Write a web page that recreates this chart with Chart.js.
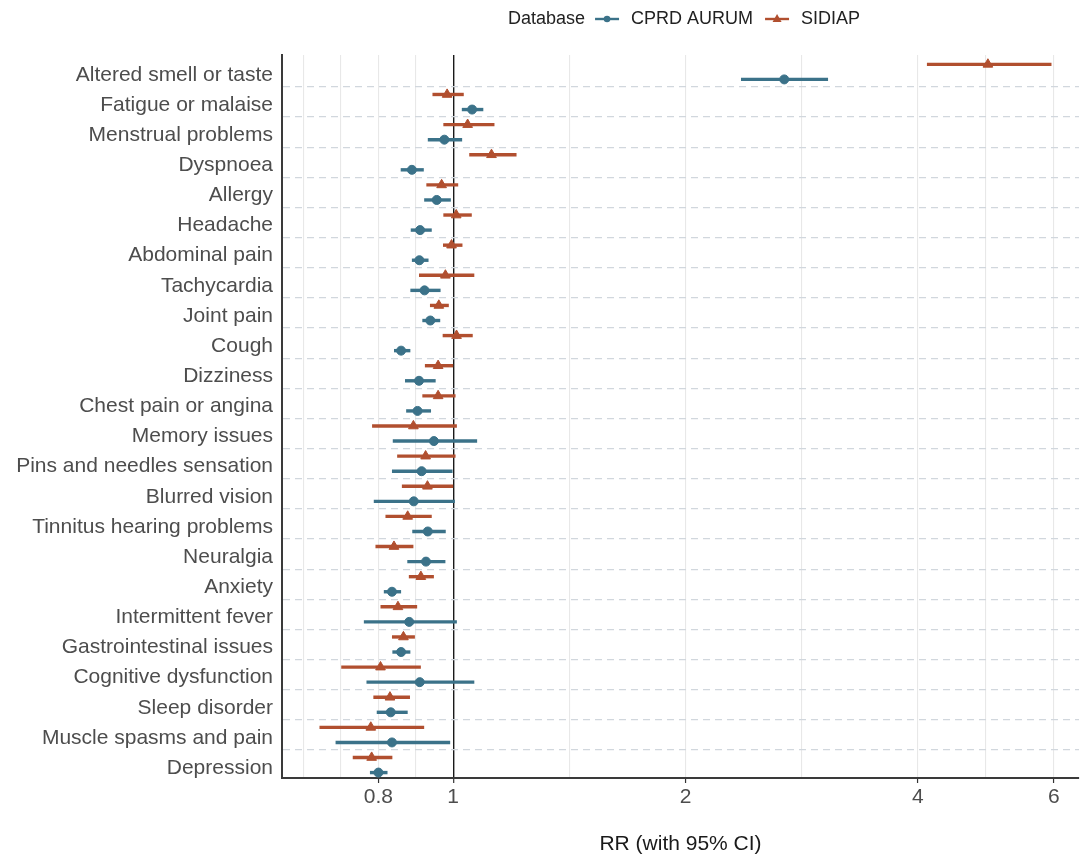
<!DOCTYPE html>
<html>
<head>
<meta charset="utf-8">
<title>RR by symptom</title>
<script src="https://cdn.jsdelivr.net/npm/chart.js@4.4.1/dist/chart.umd.min.js"></script>
<style>
  html, body { margin: 0; padding: 0; background: #fff; }
  #wrap { position: relative; width: 1081px; height: 860px; }
</style>
</head>
<body>
<div id="wrap"><canvas id="rrChart"></canvas></div>
<script>
// Symptoms, top to bottom
const categories = [
  'Altered smell or taste', 'Fatigue or malaise', 'Menstrual problems', 'Dyspnoea',
  'Allergy', 'Headache', 'Abdominal pain', 'Tachycardia', 'Joint pain', 'Cough',
  'Dizziness', 'Chest pain or angina', 'Memory issues', 'Pins and needles sensation',
  'Blurred vision', 'Tinnitus hearing problems', 'Neuralgia', 'Anxiety',
  'Intermittent fever', 'Gastrointestinal issues', 'Cognitive dysfunction',
  'Sleep disorder', 'Muscle spasms and pain', 'Depression'
];

// CPRD AURUM: RR and 95% CI
const cprdRR = [2.685, 1.058, 0.974, 0.884, 0.952, 0.906, 0.904, 0.918, 0.934, 0.856, 0.903, 0.899,
                0.944, 0.910, 0.889, 0.927, 0.922, 0.833, 0.877, 0.856, 0.905, 0.830, 0.833, 0.800];
const cprdLo = [2.36, 1.026, 0.927, 0.855, 0.917, 0.881, 0.884, 0.880, 0.912, 0.838, 0.866, 0.869,
                0.835, 0.833, 0.789, 0.885, 0.872, 0.813, 0.766, 0.834, 0.772, 0.796, 0.704, 0.780];
const cprdHi = [3.06, 1.094, 1.027, 0.916, 0.993, 0.938, 0.929, 0.963, 0.962, 0.880, 0.949, 0.936,
                1.074, 0.998, 1.005, 0.978, 0.977, 0.856, 1.011, 0.880, 1.065, 0.873, 0.991, 0.822];

// SIDIAP: RR and 95% CI
const sidiapRR = [4.93, 0.982, 1.044, 1.121, 0.966, 1.009, 0.995, 0.977, 0.958, 1.010, 0.956, 0.956,
                  0.888, 0.921, 0.926, 0.873, 0.838, 0.908, 0.848, 0.862, 0.805, 0.828, 0.782, 0.784];
const sidiapLo = [4.11, 0.940, 0.971, 1.049, 0.923, 0.971, 0.970, 0.903, 0.933, 0.969, 0.919, 0.912,
                  0.785, 0.846, 0.858, 0.817, 0.793, 0.876, 0.805, 0.833, 0.716, 0.788, 0.671, 0.741];
const sidiapHi = [5.96, 1.032, 1.131, 1.208, 1.015, 1.057, 1.028, 1.065, 0.987, 1.060, 1.000, 1.007,
                  1.011, 1.007, 1.000, 0.938, 0.888, 0.944, 0.898, 0.892, 0.908, 0.879, 0.917, 0.834];

// x axis: labelled breaks and the lighter in-between grid lines
const xTickValues = [0.8, 1, 2, 4, 6];
const xTickText = ['0.8', '1', '2', '4', '6'];
const xGridValues = [0.64, 0.7155, 0.8, 0.8944, 1, 1.4142, 2, 2.8284, 4, 4.899, 6];

const FONT = "'Liberation Sans', Arial, Helvetica, sans-serif";
const TEAL = '#3b7289';
const RUST = '#b14f2f';
const DODGE = 0.25;

Chart.defaults.font.family = FONT;

function toPoints(rr, lo, hi, shift) {
  return rr.map((v, i) => ({ x: v, y: i + shift, lo: lo[i], hi: hi[i] }));
}

// horizontal CI bars, drawn under the points
const errorBars = {
  id: 'errorBars',
  beforeDatasetsDraw(chart) {
    const { ctx, scales: { x, y } } = chart;
    chart.data.datasets.forEach((ds, di) => {
      if (!chart.isDatasetVisible(di)) return;
      ctx.save();
      ctx.strokeStyle = ds.borderColor;
      ctx.lineWidth = 3.4;
      ds.data.forEach(p => {
        const py = y.getPixelForValue(p.y);
        ctx.beginPath();
        ctx.moveTo(x.getPixelForValue(p.lo), py);
        ctx.lineTo(x.getPixelForValue(p.hi), py);
        ctx.stroke();
      });
      ctx.restore();
    });
  }
};

// "Database" legend in one row, ggplot style
const dbLegend = {
  id: 'dbLegend',
  afterDraw(chart) {
    const ctx = chart.ctx;
    const y = 19;
    let x = 508;
    ctx.save();
    ctx.font = '18px ' + FONT;
    ctx.textBaseline = 'middle';
    ctx.fillStyle = '#222';
    ctx.fillText('Database', x, y);
    x += ctx.measureText('Database').width + 10;
    chart.data.datasets.forEach(ds => {
      ctx.strokeStyle = ds.borderColor;
      ctx.fillStyle = ds.borderColor;
      ctx.lineWidth = 2.4;
      ctx.beginPath();
      ctx.moveTo(x, y);
      ctx.lineTo(x + 24, y);
      ctx.stroke();
      ctx.beginPath();
      if (ds.pointStyle === 'triangle') {
        ctx.moveTo(x + 12, y - 5);
        ctx.lineTo(x + 16.5, y + 3);
        ctx.lineTo(x + 7.5, y + 3);
        ctx.closePath();
      } else {
        ctx.arc(x + 12, y, 3.3, 0, Math.PI * 2);
      }
      ctx.fill();
      x += 36;
      ctx.fillStyle = '#222';
      ctx.fillText(ds.label, x, y);
      x += ctx.measureText(ds.label).width + 12;
    });
    ctx.restore();
  }
};

new Chart(document.getElementById('rrChart'), {
  type: 'scatter',
  data: {
    datasets: [
      {
        label: 'CPRD AURUM',
        data: toPoints(cprdRR, cprdLo, cprdHi, DODGE),
        borderColor: TEAL,
        backgroundColor: TEAL,
        pointStyle: 'circle',
        pointRadius: 4.5,
        borderWidth: 1
      },
      {
        label: 'SIDIAP',
        data: toPoints(sidiapRR, sidiapLo, sidiapHi, -DODGE),
        borderColor: RUST,
        backgroundColor: RUST,
        pointStyle: 'triangle',
        pointRadius: 5.6,
        borderWidth: 1
      }
    ]
  },
  options: {
    responsive: true,
    maintainAspectRatio: false,
    animation: false,
    layout: { autoPadding: false, padding: { top: 55, right: 2, bottom: 0, left: 0 } },
    plugins: { legend: { display: false }, tooltip: { enabled: false } },
    scales: {
      x: {
        type: 'logarithmic',
        min: 0.604,
        max: 6.47,
        afterBuildTicks: s => { s.ticks = xGridValues.map(v => ({ value: v })); },
        afterFit: s => { s.height = 82; s.paddingLeft = 0; s.paddingRight = 0; },
        grid: {
          color: c => c.tick && c.tick.value === 1 ? '#1a1a1a' : '#e8e8e8',
          lineWidth: c => c.tick && c.tick.value === 1 ? 1.4 : 1.1,
          tickColor: c => c.tick && xTickValues.includes(c.tick.value) ? '#333' : 'rgba(0,0,0,0)',
          tickLength: 5,
          tickWidth: 1.2
        },
        border: { display: true, color: '#3a3a3a', width: 2 },
        ticks: {
          autoSkip: false,
          maxRotation: 0,
          padding: 2,
          color: '#4d4d4d',
          font: { size: 21 },
          callback: v => {
            const k = xTickValues.indexOf(v);
            return k >= 0 ? xTickText[k] : '';
          }
        },
        title: {
          display: true,
          text: 'RR (with 95% CI)',
          color: '#1a1a1a',
          font: { size: 21 },
          padding: { top: 0, bottom: 3 }
        }
      },
      y: {
        type: 'linear',
        reverse: true,
        min: -0.56,
        max: 23.43,
        afterBuildTicks: s => {
          const t = [];
          categories.forEach((c, i) => {
            t.push({ value: i });
            if (i < categories.length - 1) t.push({ value: i + 0.5 });
          });
          s.ticks = t;
        },
        afterFit: s => { s.width = 282; },
        grid: {
          color: c => c.tick && Number.isInteger(c.tick.value) ? 'rgba(0,0,0,0)' : '#d1d7dd',
          lineWidth: 1.2,
          drawTicks: false
        },
        border: { display: true, color: '#3a3a3a', width: 2, dash: [7, 5] },
        ticks: {
          autoSkip: false,
          padding: 9,
          labelOffset: 3,
          color: '#4d4d4d',
          font: { size: 21 },
          callback: v => Number.isInteger(v) ? categories[v] : ''
        }
      }
    }
  },
  plugins: [errorBars, dbLegend]
});
</script>
</body>
</html>
